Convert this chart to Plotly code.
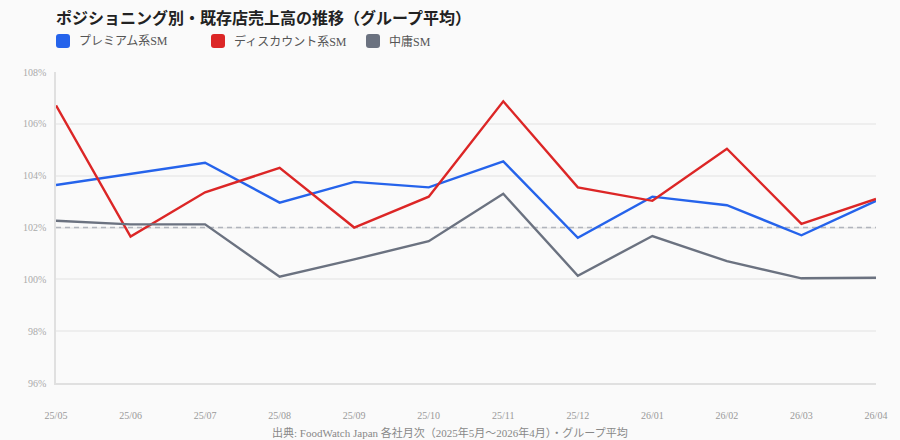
import plotly.graph_objects as go

months = ["25/05", "25/06", "25/07", "25/08", "25/09", "25/10", "25/11", "25/12", "26/01", "26/02", "26/03", "26/04"]
premium = [103.64, 104.06, 104.50, 102.96, 103.76, 103.55, 104.55, 101.60, 103.19, 102.86, 101.70, 103.03]
discount = [106.71, 101.65, 103.36, 104.30, 102.00, 103.19, 106.87, 103.55, 103.03, 105.04, 102.14, 103.10]
middle = [102.26, 102.12, 102.12, 100.10, 100.77, 101.47, 103.30, 100.14, 101.67, 100.70, 100.04, 100.06]
series_names = ["プレミアム系SM", "ディスカウント系SM", "中庸SM"]
colors = ["#2563eb", "#dc2626", "#6b7280"]
y_ticks = [96, 98, 100, 102, 104, 106, 108]
y_tick_labels = ["96%", "98%", "100%", "102%", "104%", "106%", "108%"]
ref_value = 102

FONT = "Liberation Serif, Noto Sans CJK JP, serif"
W, H = 900, 440
ML, MR, MT, MB = 56, 24, 72, 57
PW, PH = W - ML - MR, H - MT - MB


def px_x(p):
    return (p - ML) / PW


def px_y(p):
    return (H - MB - p) / PH


fig = go.Figure()
# reference line at 102% drawn as a trace so it sits above the gridlines but beneath the series
fig.add_trace(go.Scatter(
    x=[months[0], months[-1]], y=[ref_value, ref_value], mode="lines",
    line=dict(color="#b0b4bc", width=1.4, dash="5px,4px"), showlegend=False, hoverinfo="skip",
))
for name, vals, col in zip(series_names, [premium, discount, middle], colors):
    fig.add_trace(go.Scatter(
        x=months, y=vals, mode="lines", name=name,
        line=dict(color=col, width=2.4), showlegend=False,
        hovertemplate="%{x}: %{y:.2f}%<extra>" + name + "</extra>",
    ))

shapes = []
annotations = []

# custom legend: rounded squares + labels (pixel-sized shapes, y grows upward)
legend_x = [56, 211, 366]
ly = 41
r, s = 3, 14
rounded = (f"M {r},{-s} L {s-r},{-s} Q {s},{-s} {s},{-s+r} L {s},{-r} Q {s},0 {s-r},0 "
           f"L {r},0 Q 0,0 0,{-r} L 0,{-s+r} Q 0,{-s} {r},{-s} Z")
for name, col, lx in zip(series_names, colors, legend_x):
    shapes.append(dict(type="path", xref="paper", yref="paper",
                       xsizemode="pixel", ysizemode="pixel",
                       xanchor=px_x(lx), yanchor=px_y(ly - s / 2),
                       path=rounded, fillcolor=col, line=dict(width=0)))
    annotations.append(dict(text=name, xref="paper", yref="paper", x=px_x(lx + 21), y=px_y(ly),
                            xanchor="left", yanchor="middle", showarrow=False,
                            font=dict(size=12, color="#555555", family=FONT)))

annotations.append(dict(text="出典: FoodWatch Japan 各社月次（2025年5月〜2026年4月）・グループ平均",
                        xref="paper", yref="paper", x=px_x(450), y=px_y(432), xanchor="center",
                        yanchor="middle", showarrow=False,
                        font=dict(size=11, color="#888888", family=FONT)))

fig.update_layout(
    width=W, height=H,
    paper_bgcolor="#fafafa", plot_bgcolor="#fafafa",
    margin=dict(l=ML, r=MR, t=MT, b=MB),
    font=dict(family=FONT, color="#999999"),
    title=dict(text="<b>ポジショニング別・既存店売上高の推移（グループ平均）</b>",
               x=0, xref="container", xanchor="left", y=1 - 18 / H, yanchor="middle", pad=dict(l=56),
               font=dict(size=16, color="#222222", family=FONT)),
    showlegend=False,
    shapes=shapes,
    annotations=annotations,
)
fig.update_xaxes(
    type="category", categoryorder="array", categoryarray=months,
    showgrid=False, showline=True, linecolor="#e0e0e0", linewidth=1.5,
    tickfont=dict(size=10, color="#999999"), ticks="", ticklabelstandoff=22,
    range=[0, len(months) - 1], zeroline=False,
)
fig.update_yaxes(
    range=[96, 108], tickvals=y_ticks, ticktext=y_tick_labels,
    showgrid=True, gridcolor="#eeeeee", gridwidth=1.5,
    showline=True, linecolor="#e0e0e0", linewidth=1.5, zeroline=False,
    tickfont=dict(size=10, color="#aaaaaa"), ticklabelstandoff=6,
)

fig.write_html("out.html")
